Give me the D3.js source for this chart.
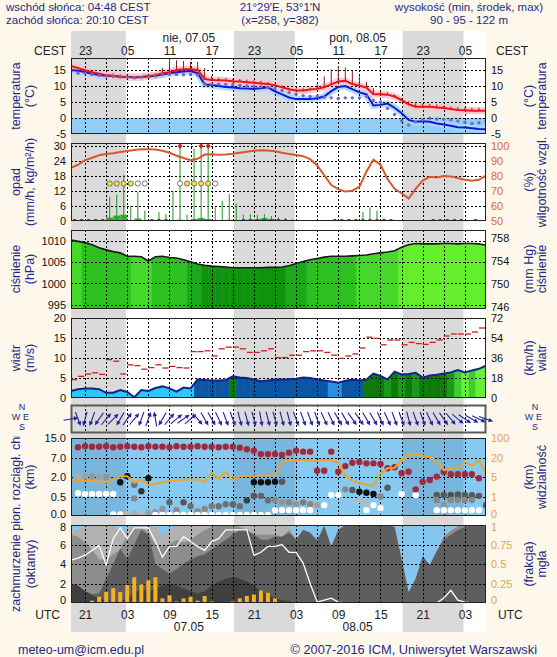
<!DOCTYPE html>
<html><head><meta charset="utf-8">
<script src="https://cdn.jsdelivr.net/npm/d3@7/dist/d3.min.js"></script>
<style>
html,body{margin:0;padding:0;background:#fdf8eb;}
svg{display:block;}
text{font-family:"Liberation Sans",Arial,Helvetica,sans-serif;}
</style></head><body>
<svg id="chart" width="557" height="657"></svg>
<script>
// ---------------- DATA (hourly, hour 0 = 19 UTC 06.05) ----------------
const hours = d3.range(0, 60);
const temp = [16.3,15.6,14.9,14.3,13.8,13.4,13.2,13.0,12.9,12.7, 12.8,13.1,13.4,14.0,14.3,15.0,15.2,15.2,15.0,12.2, 11.9,11.8,11.7,11.5,11.4,11.2,11.0,10.8,10.6,10.2, 9.6,9.0,8.6,8.6,8.9,9.1,9.6,10.5,11.4,11.6, 10.6,10.1,9.5,7.4,7.4,7.3,6.7,5.6,4.3,3.5, 3.5,3.5,3.3,3.1,2.8,2.5,2.4,2.3,2.3,2.3];
const dew = [15.0,14.8,14.3,13.8,13.4,13.2,13.1,12.9,12.8,12.7, 12.8,13.0,13.2,13.6,14.0,14.3,14.5,14.7,14.0,10.5, 10.3,10.0,9.7,9.5,9.3,9.2,9.1,9.3,9.6,8.3, 7.4,6.4,5.9,5.9,5.9,6.2,6.7,8.4,9.7,10.0, 9.0,8.0,7.4,3.9,4.1,4.5,3.2,1.5,-0.6,-1.2, -1.0,-1.2,-1.7,-2.0,-2.4,-2.9,-3.0,-3.2,-3.4,-3.5];
const tempDots = [14.5,14.0,14.0,13.6,13.3,13.1,13.0,12.8,12.7,12.6, 12.7,12.9,13.1,13.5,13.7,13.6,13.5,13.6,13.4,10.8, 10.6,10.6,10.5,10.4,10.2,10.0,9.9,9.8,9.6,9.3, 8.6,8.0,7.4,7.0,6.7,6.7,6.5,6.3,6.1,6.3, 6.3,6.3,6.7,5.5,5.0,3.0,1.1,-0.9,-2.2,-1.2, -0.6,-0.1,-0.3,-0.4,-0.6,-0.9,-1.3,-1.7,-1.5,-1.1];
const tempMax = [16.6,15.9,15.2,14.6,14.1,13.7,13.9,13.6,13.2,13.0, 13.1,13.4,14.0,15.6,18.0,18.0,17.8,17.6,17.5,15.6, 13.2,12.6,12.4,12.3,12.2,12.0,11.8,11.6,11.2,10.8, 10.2,9.5,9.2,9.3,9.5,10.5,13.0,15.2,16.2,15.8, 14.7,13.0,11.3,9.3,8.2,8.0,7.3,6.2,5.2,4.6, 4.5,4.4,4.2,3.9,3.6,3.4,3.3,3.2,3.2,3.0];
const humidity = [85.4,87.5,90.5,92.2,93.8,94.6,95.2,96.0,96.6,97.3, 97.8,97.8,97.6,96.8,95.5,93.5,92.0,90.6,91.5,94.3, 94.5,94.2,94.3,94.8,95.5,96.2,96.8,97.1,97.0,96.5, 95.5,94.7,94.0,93.2,91.2,87.0,80.5,74.0,71.2,69.6, 70.2,72.8,83.0,90.8,87.5,78.0,71.5,68.5,65.0,71.5, 77.0,79.5,79.0,80.0,79.7,78.6,77.5,76.8,77.5,80.2];
const precip = [0,0,0,0,0,1.4,2.2,2.5,0.3,1.0, 0.3,0,0.1,0.1,0.3,0.5,0.2,0.8,1.2,0.8, 0.2,0.4,0.5,0.4,0.3,0.6,0.8,1.2,0.8,0.5, 0.4,0.2,0,0,0,0,0,0,0,0, 0,0.2,0.3,0.2,0.1,0,0,0,0,0, 0,0,0,0,0,0,0,0,0,0];
const precipMax = [0,0,0,0,0,9.7,10.5,18.5,6,11.5, 4.2,0,3.6,2.8,12,32,2.5,29,32,32, 5.5,8,10.8,7,2.5,2.8,2.5,2.8,2.0,1.5, 1.2,0.8,0,0,0,0,0,0,0,0, 0,3.6,5.5,4.2,1.0,0,0,0,0,0, 0,0,0,0,0,0,0,0,0,0];
const precipSymbol = [0,0,0,0,0,1,1,1,1,2, 2,0,0,0,0,2,1,1,1,1, 2,0,0,0,0,0,0,0,0,0, 0,0,0,0,0,0,0,0,0,0, 0,0,0,0,0,0,0,0,0,0, 0,0,0,0,0,0,0,0,0,0];
const precipMarkHours = [0,1,2,3,4,11,12,13,24,25,26,27,28,29,30,37,38,39,40,41,42,43,44,45,51,52,53,54,55,57];
const pressure = [1010.1,1009.8,1009.5,1009.0,1008.3,1007.8,1007.4,1007.1,1006.3,1006.3, 1006.2,1005.2,1006.2,1006.3,1006.0,1005.9,1005.5,1005.0,1004.5,1004.2, 1004.0,1003.9,1003.8,1003.6,1003.6,1003.6,1003.6,1003.6,1003.7,1003.7, 1003.8,1004.1,1004.6,1005.1,1005.5,1005.8,1006.1,1006.3,1006.3,1006.3, 1006.4,1006.5,1006.6,1006.9,1007.1,1007.3,1007.6,1008.4,1009.0,1009.3, 1009.2,1009.2,1009.2,1009.3,1009.3,1009.2,1009.3,1009.3,1009.2,1008.9];
const pressureShade = [1,1,2,2,2,2,2,2,2,1, 1,1,2,2,2,2,2,3,3,4, 4,4,4,4,4,4,4,4,4,4, 4,3,3,3,2,2,2,2,2,2, 2,1,1,1,1,1,1,0,0,0, 0,0,0,0,0,0,0,0,0,0];
const wind = [1.75,2.2,2.4,2.4,2.2,1.3,1.3,2.0,1.5,0.2, 2.0,1.75,2.5,2.9,2.4,1.6,2.6,2.4,4.6,4.5, 4.4,4.4,4.5,5.4,5.1,5.0,4.6,4.2,4.4,4.6, 4.65,4.7,4.8,5.1,5.0,4.6,4.4,4.1,3.8,4.3, 4.6,4.4,4.6,6.1,5.5,4.65,6.6,5.9,6.0,6.3, 5.1,5.6,5.8,6.1,6.4,7.0,6.4,6.9,7.3,8.1];
const gust = [4.6,5.4,6.0,6.3,5.9,9.6,9.2,6.0,8.3,8.1, 7.2,7.6,8.3,7.5,7.9,7.6,7.5,11.6,11.6,11.8, 10.5,12.3,12.7,12.7,12.3,11.4,11.4,11.8,12.3,10.1, 10.1,10.7,10.7,11.6,11.8,11.8,11.4,10.7,9.9,10.5, 11.0,12.5,15.2,14.9,13.3,14.5,14.5,13.3,13.9,13.6, 13.4,13.9,14.5,15.5,16.0,16.0,16.0,16.5,17.5,17.5];
const windClass = [0,0,0,0,0,0,0,0,0,0, 0,0,0,0,0,0,0,0,1,1, 1,1,1,3,1,1,1,1,1,1, 1,1,1,1,1,1,1,2,2,1, 1,1,3,3,3,4,3,4,3,4, 3,3,3,3,4,5,6,5,6,6];
const windDir = [80,160,195,200,215,40,45,210,35,40, 200,20,350,210,40,50,55,50,140,150, 150,155,160,160,165,165,165,170,165,165, 165,165,160,160,160,160,155,155,150,150, 145,145,150,150,155,155,160,160,165,160, 160,155,150,145,140,130,125,120,115,110];
const cloudTop = [null,11.2,11.6,11.4,11.4,11.6,11.2,11.4,11.6,11.4, 11.2,11.6,11.4,11.4,11.2,11.6,11.4,11.4,11.6,11.4, 11.4,11.2,11.4,11.4,11.0,10.4,9.8,8.4,8.4,8.4, 8.0,9.0,9.8,9.4,9.4,3.6,3.6,9.4,3.35,4.8, 5.65,5.85,5.5,5.5,5.35,4.25,4.5,2.95,3.35,1.05, 1.64,1.77,2.1,3.35,2.7,2.7,2.7,2.7,1.9,null];
// cloud-base points: [hour, km, darkness 0=white..1=black]
const cloudBase = [[1,2.1,0.35],[2,2.2,0.4],[3,2.2,0.45],[4,2.1,0.4],[5,2.0,0.45],
 [1,0.75,0],[2,0.7,0],[3,0.7,0],[4,0.7,0],[5,0.72,0],[6,0.7,0],[6,0.04,0],[7,0.04,0],
 [7,1.6,1],[8,2.2,1],[9,1.4,0.6],[10,0.9,0.85],[11,1.9,1],[9,0.45,0.5],
 [8,0.05,0.3],[9,0.05,0.35],[10,0.05,0.3],[11,0.08,0.4],
 [12,0.1,0.45],[13,0.18,0.45],[14,0.35,0.65],[15,0.15,0.5],[16,0.35,0.7],[17,0.25,0.6],[18,0.12,0.5],[19,0.18,0.5],[20,0.25,0.55],
 [21,0.25,0.6],[22,0.3,0.6],[23,0.3,0.65],[24,0.25,0.6],[25,0.4,0.8],[26,0.55,0.7],[27,0.55,0.65],[28,0.4,0.6],
 [12,0.03,0],[13,0.03,0],[14,0.03,0],[15,0.03,0],[16,0.03,0],[17,0.03,0],[18,0.03,0],[19,0.03,0],[20,0.03,0],[21,0.03,0],
 [22,0.03,0],[23,0.03,0],[24,0.03,0],[25,0.03,0],[26,0.03,0],[27,0.03,0],[28,0.03,0],
 [26,1.6,1],[27,1.6,1],[28,1.6,1],[29,1.64,1],[30,1.64,0.7],
 [29,0.41,0.5],[30,0.35,0.45],[31,0.35,0.5],[32,0.3,0.45],[33,0.35,0.55],[34,0.3,0.5],[35,0.28,0.4],
 [29,0.15,0],[30,0.15,0],[31,0.15,0],[32,0.15,0],[33,0.15,0],[34,0.15,0],[36,0.28,0],
 [37,0.62,0],[38,0.62,0],[39,1.05,0.5],[40,1.0,0.7],[41,0.87,1],[42,0.79,1],[43,0.69,1],[44,0.5,0.5],[45,1.17,0.7],
 [41,0.41,0.3],[42,0.35,0.3],[42,0.15,0],[43,0.28,0],[44,0.2,0],[47,0.7,0],[49,0.62,0],
 [52,0.62,0.7],[53,0.62,0.7],[54,0.62,0.75],[55,0.65,0.7],[56,0.62,0.7],[57,0.6,0.7],[58,0.55,0.7],
 [52,0.41,0.5],[53,0.28,0.45],[54,0.41,0.5],[55,0.41,0.5],[56,0.41,0.5],[57,0.41,0.5],
 [52,0.15,0],[53,0.15,0],[54,0.15,0],[55,0.15,0],[56,0.15,0],[57,0.15,0],[58,0.15,0],[59,0.28,0.7]];
const visibility = [4.5,4.3,4.2,4.2,4.1,3.9,4.5,5.5,5.5,3.8, 4.5,3.3,3.6,4.0,4.2,4.3,4.5,4.5,4.5,4.0, 8.3,4.5,9.1,4.4,5.5,5.8,5.9,6.0,6.3,6.0, 16,18,18,18,17.5,17.5,18,18,16,6, 4.3,3.8,3.4,3.2,7.8,11.7,12,18,30,31, 28,23,16.8,10.3,11.7,11,16.8,13.5,18,7.8];
const cloudHigh = [7.3,7.6,7.8,8,8,8,8,7.4,7.6,8, 8,8,7.8,7.0,7.5,8,8,8,8,8, 8,8,8,8,8,8,8,8,8,8, 8,8,6.5,7.5,7.2,6.4,7.9,5.8,7.5,8, 8,8,8,8,8,8,8,4.5,1.1,2.5, 4.8,3.9,5.3,6.8,7.5,7.9,8,8,8,8];
const cloudMid = [7.0,6.8,6.2,5.5,4.5,4.5,5.0,5.5,7.0,7.8, 7.8,7.2,6.0,5.8,6.0,6.5,6.2,6.5,7.0,7.5, 7.8,8,8,8,7.8,7.5,7.0,7.0,7.0,7.0, 6.8,7.5,6.5,7.5,7.2,6.4,7.9,5.8,7.5,8, 8,8,8,8,8,8,7.8,4.5,1.1,2.5, 4.8,3.9,5.3,6.8,7.4,7.9,8,8,8,8];
const cloudLowMid = [2.0,1.6,1.2,0.9,1.0,2.5,4.0,5.6,4.5,6.0, 7.5,7.0,4.0,3.5,3.0,3.5,4.0,4.5,4.8,5.0, 5.5,6.0,6.5,7.0,7.5,7.5,7.0,6.5,6.5,6.8, 6.8,7.2,6.5,7.5,7.2,6.4,7.9,5.8,7.5,8, 8,8,8,8,8,8,7.8,4.5,1.1,2.5, 4.8,3.9,5.3,6.5,7.0,7.5,7.8,8,8,7.8];
const cloudLow = [2.0,1.8,1.2,0.8,0.5,0.3,0.2,0.2,0.5,1.0, 1.5,1.2,1.5,1.8,2.0,1.8,1.5,1.2,1.0,1.2, 1.8,2.2,2.5,2.7,2.5,2.2,1.8,1.2,0.8,0.5, 0.3,0.2,0,0,0,0,0,0,0,0, 0,0,0,0,0,0,0,0,0,0, 0,0,0,0,0,0,0,0,0,0];
const cloudTotal = [4.4,4.6,4.9,5.4,5.9,3.9,6.6,7.7,6.6,7.7, 7.7,7.7,6.3,4.7,5.8,5.8,6.8,6.3,5.8,5.4, 6.3,6.6,7.5,7.5,7.5,7.5,4.9,5.2,5.8,5.8, 6.0,5.2,5.2,4.1,2.0,0.1,0.3,0.5,0.1,0, 0,0,0,0,0,0,0,0,0,0, 0,0,0,0.5,1.3,0.3,0.1,0,0,0];
const fog = [0,0,0,0.03,0.08,0.14,0.19,0.14,0.23,0.33, 0.24,0.29,0.33,0.06,0.10,0.02,0.06,0.08,0.03,0.09, 0.02,0,0,0.02,0.06,0.09,0.11,0.16,0.13,0.06, 0,0,0,0,0,0,0,0,0,0, 0,0,0,0,0,0,0,0,0,0, 0,0,0,0,0,0,0,0,0,0];
// ticks
const tempTicks = [-5,0,5,10,15];
const rainTicks = [0,6,12,18,24,30];
const rhTicks = [50,60,70,80,90,100];
const presTicks = [995,1000,1005,1010];
const mmHgTicks = [746,750,754,758];
const windTicks = [0,5,10,15,20];
const kmhTicks = [0,18,36,54,72];
const baseTicks = [0,0.5,2,7,15];
const visTicks = [0,1,5,20,100];
const oktaTicks = [0,2,4,6,8];
const fogTicks = [0,0.25,0.5,0.75,1];
const startUTC = 19;
const sunriseUTC = 2 + 48/60, sunsetUTC = 18 + 10/60;
const dayLabels = [{hour:16.75, top:"nie, 07.05", bottom:"07.05"},{hour:40.75, top:"pon, 08.05", bottom:"08.05"}];

// ---------------- LAYOUT ----------------
const FONT = '"Liberation Sans",Arial,Helvetica,sans-serif';
const NAVY = "#1f2a86";
const svg = d3.select("#chart");
svg.append("rect").attr("width",557).attr("height",657).attr("fill","#fdf8eb");
const X0 = 71, X1 = 486;
const x = d3.scaleLinear().domain([0,59]).range([X0,X1]);
const nights = [];
for (let k=-1;k<3;k++){ const s=sunsetUTC-startUTC+24*k, e=sunriseUTC-startUTC+24*(k+1); if(e>0&&s<59) nights.push([Math.max(0,s),Math.min(59,e)]); }
const gridHours = d3.range(2,59,3);
const labelHours = d3.range(2,59,6);
const pad2 = v => String(((v%24)+24)%24).padStart(2,"0");

svg.append("rect").attr("x",X0).attr("y",31).attr("width",X1-X0).attr("height",601).attr("fill","#ffffff");
nights.forEach(n=>svg.append("rect").attr("x",x(n[0])).attr("y",31).attr("width",x(n[1])-x(n[0])).attr("height",601).attr("fill","#dadada"));

const defs = svg.append("defs");
let cpId = 0;
function clipRect(x0,y0,w,h){ const id="cp"+(cpId++); defs.append("clipPath").attr("id",id).append("rect").attr("x",x0).attr("y",y0).attr("width",w).attr("height",h); return `url(#${id})`; }
function panel(t,b){ const g = svg.append("g").attr("clip-path",clipRect(X0,t,X1-X0,b-t)); return {g,t,b}; }
function grid(p, ys){
  const gg = p.g.append("g").attr("stroke","#000").attr("stroke-width",1).attr("stroke-dasharray","2,2").attr("fill","none");
  gridHours.forEach(h=>{ const xx=Math.round(x(h))+0.5; gg.append("line").attr("x1",xx).attr("x2",xx).attr("y1",p.t).attr("y2",p.b); });
  ys.forEach(yy=>{ const y=Math.round(yy)+0.5; gg.append("line").attr("x1",X0).attr("x2",X1).attr("y1",y).attr("y2",y); });
}
function border(p, color="#222", w=1){ svg.append("rect").attr("x",X0+0.5).attr("y",p.t+0.5).attr("width",X1-X0-1).attr("height",p.b-p.t-1).attr("fill","none").attr("stroke",color).attr("stroke-width",w); }
function axis(side, scale, values, fmt, color, nudges=[]){
  const ax = (side==="left"?d3.axisLeft(scale):d3.axisRight(scale)).tickValues(values).tickSize(0).tickPadding(5).tickFormat(fmt);
  const g = svg.append("g").attr("transform",`translate(${side==="left"?X0:X1},0)`).call(ax);
  g.select(".domain").remove();
  g.selectAll("text").attr("fill",color).attr("font-size",11).attr("font-family",FONT).attr("dy","0.36em");
  nudges.forEach(n=>g.selectAll(".tick").filter(d=>n.value===d).select("text").attr("y",n.dy));
}
function vtitle(xc, yc, txt, color=NAVY){ svg.append("text").attr("transform",`translate(${xc},${yc}) rotate(-90)`).attr("text-anchor","middle").attr("dy","0.36em").attr("fill",color).attr("font-size",12.5).text(txt); }

// ---------------- HEADER ----------------
function txt(x0,y0,s,opts={}){ return svg.append("text").attr("x",x0).attr("y",y0).attr("font-size",opts.size||12).attr("fill",opts.color||NAVY).attr("text-anchor",opts.anchor||"start").text(s); }
txt(6,11,"wschód słońca: 04:48 CEST",{size:11.5});
txt(6,24,"zachód słońca: 20:10 CEST",{size:11.5});
txt(280,11,"21°29'E, 53°1'N",{anchor:"middle",size:11.5});
txt(280,24,"(x=258,  y=382)",{anchor:"middle",size:11.5});
txt(469,11,"wysokość (min, środek, max)",{anchor:"middle",size:11.5});
txt(469,24,"90 - 95 - 122 m",{anchor:"middle",size:11.5});
dayLabels.forEach(d=>{ txt(x(d.hour),42,d.top,{anchor:"middle",color:"#222"}); txt(x(d.hour),631,d.bottom,{anchor:"middle",color:"#222"}); });
const topAx = svg.append("g").attr("transform","translate(0,55)").call(d3.axisTop(x).tickValues(labelHours).tickSize(0).tickPadding(0).tickFormat(h=>pad2(startUTC+h+2)));
topAx.select(".domain").remove();
topAx.selectAll("text").attr("font-size",12).attr("font-family",FONT).attr("fill","#222").attr("dy",0);
const botAx = svg.append("g").attr("transform","translate(0,619)").call(d3.axisBottom(x).tickValues(labelHours).tickSize(0).tickPadding(0).tickFormat(h=>pad2(startUTC+h)));
botAx.select(".domain").remove();
botAx.selectAll("text").attr("font-size",12).attr("font-family",FONT).attr("fill","#222").attr("dy",0).attr("y",0);
txt(66,55,"CEST",{anchor:"end",color:"#222"});
txt(496,55,"CEST",{color:"#222"});
txt(60,619,"UTC",{anchor:"end",color:"#222"});
txt(498,619,"UTC",{color:"#222"});
txt(18,654,"meteo-um@icm.edu.pl",{size:12.5});
txt(537,654,"© 2007-2016 ICM, Uniwersytet Warszawski",{size:12.8,anchor:"end"});

// ---------------- TEMPERATURE ----------------
const PT = panel(58,134);
const yT = d3.scaleLinear().domain([-5,18.75]).range([134,58]);
PT.g.append("rect").attr("x",X0).attr("y",yT(0)).attr("width",X1-X0).attr("height",yT(-5)-yT(0)).attr("fill","#93cdf6");
const lineT = arr => d3.line().x((d,i)=>x(hours[i])).y(d=>yT(d))(arr);
PT.g.append("path").attr("d",lineT(dew)).attr("fill","none").attr("stroke","#a9d8fb").attr("stroke-width",7).attr("opacity",0.85);
PT.g.append("path").attr("d",lineT(temp)).attr("fill","none").attr("stroke","#ffc0c8").attr("stroke-width",7).attr("opacity",0.85);
grid(PT, tempTicks.map(yT));
PT.g.selectAll(".tb").data(hours).enter().append("line").attr("x1",h=>x(h)).attr("x2",h=>x(h)).attr("y1",h=>yT(temp[h])).attr("y2",h=>yT(tempMax[h])).attr("stroke","#8c1c1c").attr("stroke-width",1);
PT.g.append("path").attr("d",lineT(dew)).attr("fill","none").attr("stroke","#1414dc").attr("stroke-width",2);
PT.g.append("path").attr("d",lineT(temp)).attr("fill","none").attr("stroke","#e8141c").attr("stroke-width",2);
PT.g.selectAll(".td").data(hours).enter().append("circle").attr("cx",h=>x(h)).attr("cy",h=>yT(tempDots[h])).attr("r",1.7).attr("fill","#6c6cc4");
border(PT);
axis("left",yT,tempTicks,d=>d,"#111");
axis("right",yT,tempTicks,d=>d,"#111");
vtitle(15,96,"temperatura"); vtitle(29,96,"(°C)");
vtitle(528,96,"(°C)"); vtitle(541,96,"temperatura");

// ---------------- PRECIPITATION / HUMIDITY ----------------
const PR = panel(143,221);
const yR = d3.scaleLinear().domain([0,30]).range([221,146]);
const yH = d3.scaleLinear().domain([50,100]).range([221,146]);
grid(PR, rainTicks.map(yR));
PR.g.selectAll(".pb").data(hours).enter().append("rect").attr("x",h=>x(h)).attr("width",h=>x(h+1)-x(h)).attr("y",h=>yR(precip[h])).attr("height",h=>yR(0)-yR(precip[h])).attr("fill","#2fb52f");
PR.g.selectAll(".pm").data(hours.filter(h=>precipMax[h]>0)).enter().append("line").attr("x1",h=>x(h+0.5)).attr("x2",h=>x(h+0.5)).attr("y1",yR(0)).attr("y2",h=>yR(Math.min(precipMax[h],31.5))).attr("stroke","#1e9a1e").attr("stroke-width",1);
PR.g.selectAll(".pt").data(hours.filter(h=>precipMax[h]>30)).enter().append("path").attr("d",h=>`M${x(h+0.5)},${yR(30)-3}l2.5,3l-2.5,3l-2.5,-3z`).attr("fill","#dd2020");
PR.g.selectAll(".pz").data(precipMarkHours).enter().append("rect").attr("x",h=>x(h+0.5)-1.5).attr("y",yR(0)-2).attr("width",3).attr("height",2).attr("fill","#b32222");
PR.g.append("path").attr("d",d3.line().x((d,i)=>x(hours[i])).y(d=>yH(d))(humidity)).attr("fill","none").attr("stroke","#d9582b").attr("stroke-width",2);
PR.g.selectAll(".ps").data(hours.filter(h=>precipSymbol[h]>0)).enter().append("circle").attr("cx",h=>x(h+0.5)).attr("cy",yR(15)).attr("r",2.6).attr("fill",h=>precipSymbol[h]===1?"#f2e23a":"#ffffff").attr("stroke","#555").attr("stroke-width",0.8);
border(PR);
axis("left",yR,rainTicks,d=>d,"#111");
axis("right",yH,rhTicks,d=>d,"#e2662c");
vtitle(15,182,"opad"); vtitle(29,182,"(mm/h, kg/m²/h)");
vtitle(528,182,"(%)"); vtitle(541,182,"wilgotność wzgl.");

// ---------------- PRESSURE ----------------
const PS = panel(230,309);
const yS = d3.scaleLinear().domain([995,1010]).range([304.5,240.5]);
const HPA_PER_MMHG = 1.333224;
const yMM = d3.scaleLinear().domain([995/HPA_PER_MMHG,1010/HPA_PER_MMHG]).range([304.5,240.5]);
const presPal = ["#62ee2a","#46d82a","#2dc021","#1ba91b","#0f930f"];
const presArea = d3.area().x((d,i)=>x(hours[i])).y0(309).y1(d=>yS(d))(pressure);
const presClip = "pc"+(cpId++); defs.append("clipPath").attr("id",presClip).append("path").attr("d",presArea);
const pg = PS.g.append("g").attr("clip-path",`url(#${presClip})`);
pg.selectAll("rect").data(hours).enter().append("rect").attr("x",h=>x(h-0.5)).attr("width",h=>x(h+0.5)-x(h-0.5)+0.5).attr("y",230).attr("height",79).attr("fill",h=>presPal[pressureShade[h]]);
grid(PS, presTicks.map(yS));
PS.g.append("path").attr("d",d3.line().x((d,i)=>x(hours[i])).y(d=>yS(d))(pressure)).attr("fill","none").attr("stroke","#1a1a1a").attr("stroke-width",1.6);
border(PS);
axis("left",yS,presTicks,d=>d,"#111");
axis("right",yMM,mmHgTicks,d=>d,"#111");
vtitle(15,269,"ciśnienie"); vtitle(29,269,"(hPa)");
vtitle(528,269,"(mm Hg)"); vtitle(541,269,"ciśnienie");

// ---------------- WIND ----------------
const PW = panel(318,398);
const yW = d3.scaleLinear().domain([0,20]).range([398,318]);
const yKmh = d3.scaleLinear().domain([0,72]).range([398,318]);
const windPal = ["#2cc8f7","#0a55a4","#2a8fe4","#0c7b0c","#1a9a1a","#3ccf2c","#66f03c"];
const windArea = d3.area().x((d,i)=>x(hours[i])).y0(398).y1(d=>yW(d))(wind);
const windClip = "wc"+(cpId++); defs.append("clipPath").attr("id",windClip).append("path").attr("d",windArea);
const wg = PW.g.append("g").attr("clip-path",`url(#${windClip})`);
wg.selectAll("rect").data(hours).enter().append("rect").attr("x",h=>x(h-0.5)).attr("width",h=>x(h+0.5)-x(h-0.5)+0.5).attr("y",318).attr("height",80).attr("fill",h=>windPal[windClass[h]]);
grid(PW, windTicks.map(yW));
PW.g.selectAll(".gu").data(hours).enter().append("line").attr("x1",h=>x(h)).attr("x2",h=>x(h+1)-1).attr("y1",h=>yW(gust[h])).attr("y2",h=>yW(gust[h])).attr("stroke","#cc1f1f").attr("stroke-width",1.3);
PW.g.append("path").attr("d",d3.line().x((d,i)=>x(hours[i])).y(d=>yW(d))(wind)).attr("fill","none").attr("stroke","#14238a").attr("stroke-width",2);
border(PW);
axis("left",yW,windTicks,d=>d,"#111");
axis("right",yKmh,kmhTicks,d=>d,"#111");
vtitle(15,358,"wiatr"); vtitle(29,358,"(m/s)");
vtitle(528,358,"(km/h)"); vtitle(541,358,"wiatr");

// ---------------- WIND DIRECTION ----------------
const PD = {t:405,b:433};
PD.g = svg.append("g").attr("clip-path",clipRect(X0,PD.t,X1-X0,PD.b-PD.t));
grid(PD, []);
svg.append("rect").attr("x",X0+0.5).attr("y",PD.t+0.5).attr("width",X1-X0-1).attr("height",PD.b-PD.t-1).attr("fill","none").attr("stroke","#5a5a5a").attr("stroke-width",2);
const yMid = (PD.t+PD.b)/2, L = 7.5;
const ag = svg.append("g").attr("fill","#2323a0").attr("stroke","#2323a0");
hours.forEach(h=>{
  const a = windDir[h]*Math.PI/180, dx=Math.sin(a), dy=-Math.cos(a);
  const cx=x(h), tx=cx-dx*L, ty=yMid-dy*L, hx=cx+dx*L, hy=yMid+dy*L;
  ag.append("line").attr("x1",tx).attr("y1",ty).attr("x2",hx-dx*3).attr("y2",hy-dy*3).attr("stroke-width",1.1);
  const px=-dy, py=dx;
  ag.append("path").attr("stroke","none").attr("d",`M${hx},${hy}L${hx-dx*4.5+px*2.2},${hy-dy*4.5+py*2.2}L${hx-dx*4.5-px*2.2},${hy-dy*4.5-py*2.2}Z`);
});
function compass(cx){
  const g=svg.append("g").attr("fill",NAVY).attr("font-size",9).attr("text-anchor","middle");
  g.append("text").attr("x",cx+2).attr("y",410).text("N");
  g.append("text").attr("x",cx-4).attr("y",420).text("W");
  g.append("text").attr("x",cx+6).attr("y",420).text("E");
  g.append("text").attr("x",cx+2).attr("y",430).text("S");
}
compass(20); compass(533);

// ---------------- CLOUD BASE / VISIBILITY ----------------
const PV = panel(438,516);
const yV = d3.scaleLinear().domain(baseTicks).range([516,496.5,477,457.5,438]);
const yVis = d3.scaleLinear().domain(visTicks).range([516,496.5,477,457.5,438]);
PV.g.append("rect").attr("x",X0).attr("y",438).attr("width",X1-X0).attr("height",78).attr("fill","#86c9f1");
nights.forEach(n=>PV.g.append("rect").attr("x",x(n[0])).attr("y",438).attr("width",x(n[1])-x(n[0])).attr("height",78).attr("fill","#78b6de"));
grid(PV, baseTicks.map(yV));
const shade = d3.interpolateRgb("#ffffff","#111111");
PV.g.selectAll(".cb").data(cloudBase).enter().append("circle").attr("cx",d=>x(d[0])).attr("cy",d=>yV(d[1])).attr("r",3.2).attr("fill",d=>shade(d[2]));
PV.g.selectAll(".ct").data(hours.filter(h=>cloudTop[h]!==null)).enter().append("circle").attr("cx",h=>x(h)).attr("cy",h=>yV(cloudTop[h])).attr("r",3.2).attr("fill","#a3283a");
PV.g.append("path").attr("d",d3.line().x((d,i)=>x(hours[i])).y(d=>yVis(d))(visibility)).attr("fill","none").attr("stroke","#eea32c").attr("stroke-width",2);
border(PV);
axis("left",yV,baseTicks,d=>d.toFixed(1),"#111",[{value:0,dy:-2}]);
axis("right",yVis,visTicks,d=>d,"#eba243",[{value:0,dy:-2}]);
svg.append("g").attr("clip-path",clipRect(0,436,60,221)).append("text").attr("transform","translate(15,612) rotate(-90)").attr("dy","0.36em").attr("fill",NAVY).attr("font-size",12.5).text("zachmurzenie  pion. rozciągł. chmur");
vtitle(29,477,"(km)");
vtitle(528,477,"(km)"); vtitle(541,477,"widzialność");

// ---------------- CLOUD COVER / FOG ----------------
const PC = panel(525,603);
const yC = d3.scaleLinear().domain([0,8]).range([603,525]);
const yF = d3.scaleLinear().domain([0,1]).range([603,525]);
PC.g.append("rect").attr("x",X0).attr("y",525).attr("width",X1-X0).attr("height",78).attr("fill","#84c6f0");
const areaC = arr => d3.area().x((d,i)=>x(hours[i])).y0(603).y1(d=>yC(d))(arr);
PC.g.append("path").attr("d",areaC(cloudHigh)).attr("fill","#b1b1b1");
PC.g.append("path").attr("d",areaC(cloudMid)).attr("fill","#8d8d8d");
PC.g.append("path").attr("d",areaC(cloudLowMid)).attr("fill","#5e5e5e");
PC.g.append("path").attr("d",areaC(cloudLow)).attr("fill","#404040");
grid(PC, oktaTicks.map(yC));
PC.g.append("path").attr("d",d3.line().x((d,i)=>x(hours[i])).y(d=>yC(d))(cloudTotal)).attr("fill","none").attr("stroke","#ffffff").attr("stroke-width",1.3);
PC.g.selectAll(".fg").data(hours.filter(h=>fog[h]>0)).enter().append("rect").attr("x",h=>x(h)-2).attr("width",4).attr("y",h=>yF(fog[h])).attr("height",h=>yF(0)-yF(fog[h])).attr("fill","#f3b224");
border(PC);
axis("left",yC,oktaTicks,d=>d,"#111",[{value:8,dy:2},{value:0,dy:-3}]);
axis("right",yF,fogTicks,d=>d,"#eba243",[{value:1,dy:2},{value:0,dy:-3}]);
vtitle(30,564,"(oktanty)");
vtitle(528,564,"(frakcja)"); vtitle(541,564,"mgła");
</script></body></html>
